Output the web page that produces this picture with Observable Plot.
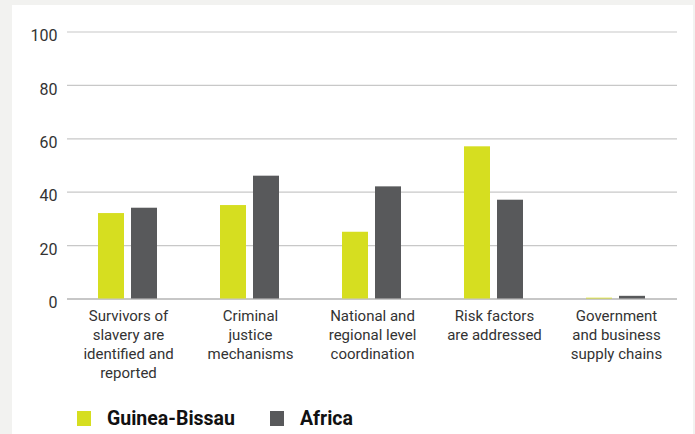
<!DOCTYPE html>
<html>
<head>
<meta charset="utf-8">
<script src="https://cdn.jsdelivr.net/npm/d3@7"></script>
<script src="https://cdn.jsdelivr.net/npm/@observablehq/plot@0.6"></script>
<style>
  html, body { margin: 0; padding: 0; background: #f2f2f0; width: 695px; height: 434px; overflow: hidden; }
  #panel { position: absolute; left: 12px; top: 5px; width: 681px; height: 429px; background: #fff; }
  #chart { position: absolute; left: 0; top: 0; }
  #legend { position: absolute; left: 65px; top: 402px; display: flex; align-items: center; font-family: Roboto, sans-serif; font-weight: 700; font-size: 19.5px; color: #111; }
  .item { display: flex; align-items: center; margin-right: 35px; }
  .sw { width: 14px; height: 15px; margin-right: 16px; }
</style>
</head>
<body>
<div id="panel">
  <div id="chart"></div>
  <div id="legend"></div>
</div>
<script>
const categories = [
  "Survivors of\nslavery are\nidentified and\nreported",
  "Criminal\njustice\nmechanisms",
  "National and\nregional level\ncoordination",
  "Risk factors\nare addressed",
  "Government\nand business\nsupply chains"
];
const seriesNames = ["Guinea-Bissau", "Africa"];
const guineaBissau = [32, 35, 25, 57, 0.3];
const africa = [34, 46, 42, 37, 1];
const yTicks = [0, 20, 40, 60, 80, 100];
const colors = ["#d6de20", "#58595b"];

const rows = [];
categories.forEach((c, i) => {
  rows.push({category: c, series: seriesNames[0], value: guineaBissau[i]});
  rows.push({category: c, series: seriesNames[1], value: africa[i]});
});

const chart = Plot.plot({
  width: 681,
  height: 400,
  marginLeft: 53,
  marginRight: 15,
  marginTop: 26.5,
  marginBottom: 106.5,
  style: {fontFamily: "Roboto, sans-serif", fontSize: "14px", background: "transparent", color: "#333"},
  fx: {domain: categories, padding: 0, label: null, axis: null},
  x: {domain: seriesNames, paddingInner: 0.2, paddingOuter: 0.9, axis: null},
  y: {domain: [0, 100], label: null},
  color: {domain: seriesNames, range: colors},
  marks: [
    Plot.ruleY(yTicks.filter(d => d > 0), {stroke: "#c8c8c8", strokeWidth: 1.2}),
    Plot.ruleY([0], {stroke: "#b5b5b5", strokeWidth: 1.3}),
    Plot.barY(rows, {fx: "category", x: "series", y: "value", fill: "series"}),
    Plot.axisY({ticks: yTicks, tickSize: 0, tickPadding: 10, fontSize: 16, dy: 4, color: "#333", label: null}),
    Plot.axisFx({anchor: "bottom", tickSize: 0, tickPadding: 9, fontSize: 15, lineHeight: 1.25, color: "#333", label: null})
  ]
});
document.getElementById("chart").append(chart);

const legend = document.getElementById("legend");
seriesNames.forEach((s, i) => {
  const item = document.createElement("div");
  item.className = "item";
  const sw = document.createElement("div");
  sw.className = "sw";
  sw.style.background = colors[i];
  const t = document.createElement("span");
  t.textContent = s;
  item.append(sw, t);
  legend.append(item);
});
</script>
</body>
</html>
